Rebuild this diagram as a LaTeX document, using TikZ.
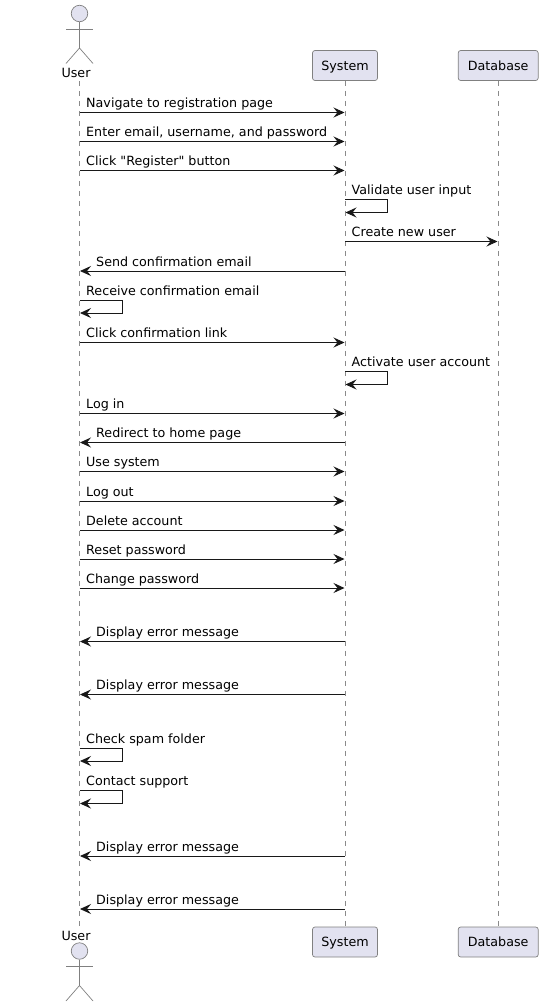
\documentclass[tikz,border=0pt]{standalone}
\usepackage{fontspec}
\newfontfamily\umlfont{DejaVu Sans}
\usetikzlibrary{positioning, arrows.meta}
\definecolor{partfill}{HTML}{E2E2F0}
\definecolor{partline}{HTML}{181818}
\definecolor{lifeline}{HTML}{8A8A8A}

\begin{document}
\begin{tikzpicture}[
				x=1pt, y=-1pt,
				font=\umlfont\fontsize{12.7}{15}\selectfont,
				part/.style={draw=partline!55, fill=partfill, rounded corners=2.5pt, line width=0.7pt, minimum height=30pt, inner sep=0pt, text height=11.5pt, text depth=2.5pt},
				life/.style={draw=lifeline, line width=0.7pt, dash pattern=on 5pt off 5pt},
				limb/.style={draw=partline!55, line width=0.7pt},
				msg/.style={draw=partline, line width=0.9pt, -{Stealth[length=11pt, width=10pt, inset=4pt]}},
				lbl/.style={anchor=base west, inner sep=0pt, text=black}
				]
				\useasboundingbox (0,0) rectangle (543,1007);
				% participants
				\node[part, minimum width=65pt] (systop) at (345,65.5) {System};
				\node[part, minimum width=80pt] (dbtop) at (498.2,65.5) {Database};
				\node[part, minimum width=65pt] (sysbot) at (345,942) {System};
				\node[part, minimum width=80pt] (dbbot) at (498.2,942) {Database};
				\node[inner sep=0pt] (usertop) at (76,73) {User};
				\node[inner sep=0pt] (userbot) at (76,935.5) {User};
				\coordinate (ustart) at (79.5,81);
				\coordinate (uend) at (79.5,926);
				% actors
				\foreach \name/\yy in {headtop/0, headbot/937.5} {
					\node[circle, draw=partline!55, fill=partfill, line width=0.7pt, minimum size=16.5pt, inner sep=0pt] (\name) at (79.5,13.5+\yy) {};
					\coordinate (\name arml) at (66,29+\yy);
					\coordinate (\name armr) at (93,29+\yy);
					\coordinate (\name hip) at (79.5,48+\yy);
					\coordinate (\name legl) at (66,63.5+\yy);
					\coordinate (\name legr) at (93,63.5+\yy);
					\draw[limb] (\name.south) -- (\name hip);
					\draw[limb] (\name arml) -- (\name armr);
					\draw[limb] (\name legl) -- (\name hip) -- (\name legr);
				}
				% lifelines
				\draw[life] (ustart) -- (uend);
				\draw[life] (systop) -- (sysbot);
				\draw[life] (dbtop) -- (dbbot);
				% messages to the right
				\foreach \i/\yy/\from/\to/\txt in {
					a/112.5/79.5/344.5/Navigate to registration page,
					b/141.5/79.5/344.5/{Enter email, username, and password},
					c/170.5/79.5/344.5/{Click "Register" button},
					d/241.5/345/497.5/Create new user,
					e/342.5/79.5/344.5/Click confirmation link,
					f/413.5/79.5/344.5/Log in,
					g/471.5/79.5/344.5/Use system,
					h/501/79.5/344.5/Log out,
					i/530/79.5/344.5/Delete account,
					j/559/79.5/344.5/Reset password,
					k/588/79.5/344.5/Change password} {
					\coordinate (s\i) at (\from,\yy);
					\coordinate (t\i) at (\to,\yy);
					\draw[msg] (s\i) -- (t\i);
					\node[lbl] (l\i) at (\from+6.5,\yy-5) {\txt};
				}
				% messages to the left
				\foreach \i/\yy/\txt in {
					m/271/Send confirmation email,
					n/442.5/Redirect to home page,
					o/641.5/Display error message,
					p/694.5/Display error message,
					q/856/Display error message,
					r/909/Display error message} {
					\coordinate (s\i) at (345,\yy);
					\coordinate (t\i) at (80,\yy);
					\draw[msg] (s\i) -- (t\i);
					\node[lbl] (l\i) at (96,\yy-5) {\txt};
				}
				% self messages
				\foreach \i/\xx/\yy/\txt in {
					u/345/199.5/Validate user input,
					v/79.5/300/Receive confirmation email,
					w/345/371.5/Activate user account,
					x/79.5/748/Check spam folder,
					y/79.5/790.5/Contact support} {
					\coordinate (s\i) at (\xx,\yy);
					\coordinate (c\i) at (\xx+42.5,\yy);
					\coordinate (d\i) at (\xx+42.5,\yy+13);
					\coordinate (t\i) at (\xx+0.5,\yy+13);
					\draw[msg] (s\i) -- (c\i) -- (d\i) -- (t\i);
					\node[lbl] (l\i) at (\xx+6.5,\yy-5) {\txt};
				}
			\end{tikzpicture}
\end{document}
